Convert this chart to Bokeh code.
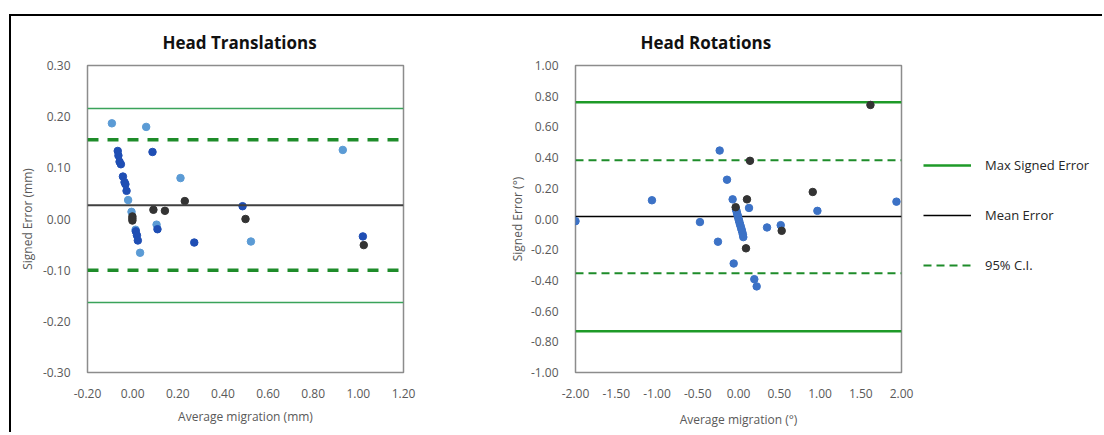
from bokeh.plotting import figure
from bokeh.layouts import row
from bokeh.models import Span, NumeralTickFormatter, FixedTicker, Range1d, Legend, LegendItem
from bokeh.embed import file_html
from bokeh.resources import INLINE

FONT = "Open Sans"

# ---------------- Head Translations (mm) ----------------
trans_x_ticks = [-0.2, 0.0, 0.2, 0.4, 0.6, 0.8, 1.0, 1.2]
trans_y_ticks = [-0.3, -0.2, -0.1, 0.0, 0.1, 0.2, 0.3]

trans_light_x = [-0.092, 0.060, 0.931, 0.212, -0.020, -0.005, 0.013, 0.106, 0.524, 0.033]
trans_light_y = [0.187, 0.180, 0.135, 0.080, 0.037, 0.014, -0.021, -0.011, -0.044, -0.066]

trans_dark_x = [-0.066, -0.063, -0.058, -0.052, -0.043, -0.036, -0.032, -0.027,
                0.088, 0.110, 0.014, 0.019, 0.023, 0.273, 0.487, 1.020]
trans_dark_y = [0.133, 0.124, 0.112, 0.107, 0.083, 0.072, 0.068, 0.055,
                0.131, -0.020, -0.024, -0.032, -0.042, -0.046, 0.025, -0.034]

trans_black_x = [0.092, 0.143, 0.231, -0.001, -0.001, -0.001, 0.500, 1.024]
trans_black_y = [0.018, 0.016, 0.035, 0.005, 0.001, -0.003, 0.000, -0.051]

trans_max_err = [0.216, -0.163]
trans_ci = [0.155, -0.100]
trans_mean = 0.027

# ---------------- Head Rotations (deg) ----------------
rot_x_ticks = [-2.0, -1.5, -1.0, -0.5, 0.0, 0.5, 1.0, 1.5, 2.0]
rot_y_ticks = [-1.0, -0.8, -0.6, -0.4, -0.2, 0.0, 0.2, 0.4, 0.6, 0.8, 1.0]

rot_blue_x = [-2.000, -1.062, -0.473, -0.231, -0.141, -0.252, -0.072, -0.059, 0.129,
              0.194, 0.223, 0.350, 0.518, 0.968, 1.938,
              -0.030, -0.024, -0.018, -0.012, -0.006, 0.000, 0.006, 0.012,
              0.019, 0.026, 0.033, 0.040, 0.047, 0.054, 0.059]
rot_blue_y = [-0.014, 0.122, -0.020, 0.446, 0.256, -0.148, 0.128, -0.290, 0.072,
              -0.392, -0.439, -0.055, -0.040, 0.053, 0.113,
              0.062, 0.050, 0.038, 0.026, 0.014, 0.002, -0.010, -0.022,
              -0.035, -0.048, -0.060, -0.073, -0.086, -0.102, -0.118]

rot_black_x = [1.619, 0.141, 0.104, -0.035, 0.092, 0.530, 0.911]
rot_black_y = [0.743, 0.379, 0.128, 0.077, -0.191, -0.077, 0.176]

rot_max_err = [0.760, -0.732]
rot_ci = [0.383, -0.353]
rot_mean = 0.016

legend_labels = ["Max Signed Error", "Mean Error", "95% C.I."]

TICK_COLOR = "#595959"
MAX_STYLE = dict(line_color="#1e9a28", line_width=2.5)
MEAN_STYLE = dict(line_color="#000000", line_width=1.5)
CI_STYLE = dict(line_color="#1e8c2a", line_width=2, line_dash="8 5")


def style(p, xticks, yticks, xlabel, ylabel, xlabel_standoff, ylabel_standoff):
    p.grid.visible = False
    p.outline_line_color = "#8c8c8c"
    p.outline_line_width = 1.5
    p.xaxis.ticker = FixedTicker(ticks=xticks)
    p.yaxis.ticker = FixedTicker(ticks=yticks)
    for ax in (p.xaxis[0], p.yaxis[0]):
        ax.formatter = NumeralTickFormatter(format="0.00")
        ax.axis_line_color = None
        ax.major_tick_line_color = None
        ax.minor_tick_line_color = None
        ax.major_label_text_color = TICK_COLOR
        ax.major_label_text_font = FONT
        ax.major_label_text_font_size = "12px"
        ax.axis_label_text_font = FONT
        ax.axis_label_text_font_size = "12px"
        ax.axis_label_text_font_style = "normal"
        ax.axis_label_text_color = TICK_COLOR
    p.xaxis.axis_label = xlabel
    p.yaxis.axis_label = ylabel
    p.xaxis.major_label_standoff = 10
    p.yaxis.major_label_standoff = 11
    p.xaxis.axis_label_standoff = xlabel_standoff
    p.yaxis.axis_label_standoff = ylabel_standoff
    p.title.text_font = FONT
    p.title.text_font_size = "17px"
    p.title.text_font_style = "bold"
    p.title.text_color = "#111111"
    p.title.align = "left"
    p.title.standoff = 24


# ---- figure 1
p1 = figure(width=470, height=416, x_range=Range1d(trans_x_ticks[0], trans_x_ticks[-1]),
            y_range=Range1d(trans_y_ticks[0], trans_y_ticks[-1]),
            output_backend="svg", toolbar_location=None,
            min_border_left=76, min_border_right=78, min_border_top=49, min_border_bottom=60,
            title="Head Translations")
style(p1, trans_x_ticks, trans_y_ticks, "Average migration (mm)", "Signed Error (mm)", 7, 4)
p1.title.offset = 75

for v in trans_max_err:
    p1.add_layout(Span(location=v, dimension="width", line_color="#3aa35a", line_width=1.5))
for v in trans_ci:
    p1.add_layout(Span(location=v, dimension="width", line_color="#1e8c2a", line_width=3.5,
                       line_dash="11 9"))
p1.add_layout(Span(location=trans_mean, dimension="width", line_color="#404040", line_width=2))

p1.scatter(trans_light_x, trans_light_y, size=7.5, color="#5B9BD5")
p1.scatter(trans_dark_x, trans_dark_y, size=7.5, color="#1F4EB4")
p1.scatter(trans_black_x, trans_black_y, size=7.5, color="#333333")

# ---- figure 2
p2 = figure(width=440, height=416, x_range=Range1d(rot_x_ticks[0], rot_x_ticks[-1]),
            y_range=Range1d(rot_y_ticks[0], rot_y_ticks[-1]),
            output_backend="svg", toolbar_location=None,
            min_border_left=94, min_border_right=20, min_border_top=49, min_border_bottom=59,
            title="Head Rotations")
style(p2, rot_x_ticks, rot_y_ticks, "Average migration (°)", "Signed Error (°)", 10, 2)
p2.title.offset = 65

xs = [rot_x_ticks[0], rot_x_ticks[-1]]
for v in rot_max_err:
    p2.line(xs, [v, v], **MAX_STYLE)
p2.line(xs, [rot_mean, rot_mean], **MEAN_STYLE)
for v in rot_ci:
    p2.line(xs, [v, v], **CI_STYLE)

p2.scatter(rot_blue_x, rot_blue_y, size=7.5, color="#3C72C6")
p2.scatter(rot_black_x, rot_black_y, size=7.5, color="#333333")

# ---- legend panel
p3 = figure(width=181, height=416, x_range=Range1d(rot_x_ticks[0], rot_x_ticks[-1]),
            y_range=Range1d(rot_y_ticks[0], rot_y_ticks[-1]),
            output_backend="svg", toolbar_location=None,
            x_axis_location=None, y_axis_location=None,
            min_border_left=0, min_border_right=0, min_border_top=0, min_border_bottom=0)
p3.grid.visible = False
p3.outline_line_color = None
l_max = p3.line(xs, [rot_max_err[0]] * 2, visible=False, **MAX_STYLE)
l_mean = p3.line(xs, [rot_mean] * 2, visible=False, **MEAN_STYLE)
l_ci = p3.line(xs, [rot_ci[0]] * 2, visible=False, **CI_STYLE)

legend = Legend(items=[LegendItem(label=legend_labels[0], renderers=[l_max]),
                       LegendItem(label=legend_labels[1], renderers=[l_mean]),
                       LegendItem(label=legend_labels[2], renderers=[l_ci])],
                location=(2, 97), padding=0, margin=0, border_line_color=None,
                background_fill_alpha=0, inactive_fill_alpha=0,
                glyph_width=48, glyph_height=20, label_height=20,
                label_standoff=14, spacing=30, label_text_font=FONT,
                label_text_font_size="13px", label_text_color="#262626")
p3.add_layout(legend)

layout = row(p1, p2, p3, margin=(14, 0, 0, 9),
             styles={"border-top": "2px solid #000", "border-left": "2px solid #000"})

open("out.html", "w").write(file_html(layout, INLINE))
